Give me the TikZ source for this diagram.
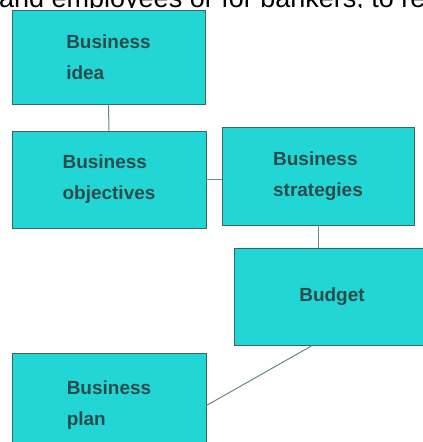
\documentclass[tikz,border=0pt]{standalone}
\usepackage{fontspec}
\setmainfont{Liberation Sans}
\usetikzlibrary{calc}

\definecolor{boxfill}{RGB}{34,214,214}
\definecolor{boxline}{RGB}{60,100,100}
\definecolor{boxtext}{RGB}{45,75,75}
\definecolor{linkline}{RGB}{105,135,135}

\tikzset{
    bizbox/.style={draw=boxline, fill=boxfill, line width=0.9pt, inner sep=0pt,
        text=boxtext, align=left, font=\fontsize{19}{31}\selectfont\bfseries},
    link/.style={draw=linkline, line width=1pt},
}

\begin{document}
\begin{tikzpicture}[x=1pt, y=-1pt]
    \useasboundingbox (0,0) rectangle (423,442);
    \clip (0,0) rectangle (423,442);

    % running text above the chart, only its lower part shows
    \begin{scope}
        \clip (0,0) rectangle (423,7.5);
        \node[anchor=base west, inner sep=0pt, font=\fontsize{27}{30}\selectfont] (run) at (-1,7.5) {and employees or for bankers, to re};
    \end{scope}

    \node[bizbox, minimum width=193pt, minimum height=94pt] (idea) at (108.5,57) {Business\\idea};
    \node[bizbox, minimum width=194pt, minimum height=97pt] (obj) at (109,179.5) {Business\\objectives};
    \node[bizbox, minimum width=192pt, minimum height=98pt] (strat) at (318,176) {Business\\strategies};
    \node[bizbox, minimum width=196pt, minimum height=97pt] (budget) at (332,296.5) {Budget};
    \node[bizbox, minimum width=194pt, minimum height=105pt] (plan) at (109,405.5) {Business\\plan};

    \draw[link] (idea.south) -- (obj.north);
    \draw[link] (obj.east) -- (obj.east -| strat.west);
    \draw[link] (strat.south) -- (strat.south |- budget.north);
    \draw[link] ($(budget.south west)!0.4!(budget.south east)$) -- (plan.east);
\end{tikzpicture}
\end{document}
